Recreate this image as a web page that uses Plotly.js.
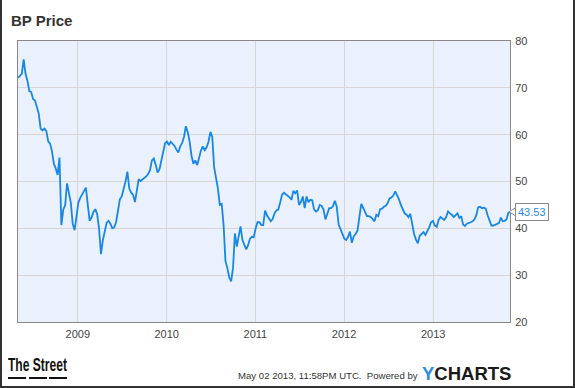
<!DOCTYPE html>
<html>
<head>
<meta charset="utf-8">
<script src="https://cdn.plot.ly/plotly-3.0.1.min.js"></script>
<style>
html,body{margin:0;padding:0;background:#fff;}
#wrap{position:relative;width:575px;height:388px;overflow:hidden;background:#fff;}
#chart{position:absolute;left:0;top:0;width:575px;height:388px;}
#frame{position:absolute;left:0;top:0;width:575px;height:388px;box-sizing:border-box;border-left:2px solid #333;border-right:2px solid #333;border-bottom:2px solid #333;pointer-events:none;}
#ts{position:absolute;left:8px;top:356px;font-family:'Liberation Sans Narrow','Liberation Sans',Arial,sans-serif;font-weight:bold;font-size:18.5px;line-height:1;color:#111;white-space:nowrap;transform-origin:0 0;}
.dash{position:absolute;top:377px;height:2px;background:#111;}
</style>
</head>
<body>
<div id="wrap">
  <div id="chart"></div>
  <div id="ts">The Street</div>
  <div class="dash" style="left:8px;width:18px;"></div>
  <div class="dash" style="left:29px;width:18px;"></div>
  <div class="dash" style="left:49px;width:18px;"></div>
  <div id="frame"></div>
</div>
<script>
// Weekly closing dates (MM-DD) per year
const days2008 = ['05-02','05-09','05-16','05-23','05-30','06-06','06-13','06-20','06-27','07-04','07-11','07-18','07-25','08-01','08-08','08-15','08-22','08-29','09-05','09-12','09-19','09-26','10-03','10-10','10-17','10-24','10-31','11-07','11-14','11-21','11-28','12-05','12-12','12-19','12-26'];
const days2009 = ['01-02','01-09','01-16','01-23','01-30','02-06','02-13','02-20','02-27','03-06','03-13','03-20','03-27','04-03','04-10','04-17','04-24','05-01','05-08','05-15','05-22','05-29','06-05','06-12','06-19','06-26','07-03','07-10','07-17','07-24','07-31','08-07','08-14','08-21','08-28','09-04','09-11','09-18','09-25','10-02','10-09','10-16','10-23','10-30','11-06','11-13','11-20','11-27','12-04','12-11','12-18','12-25'];
const days2010 = ['01-01','01-08','01-15','01-22','01-29','02-05','02-12','02-19','02-26','03-05','03-12','03-19','03-26','04-02','04-09','04-16','04-23','04-30','05-07','05-14','05-21','05-28','06-04','06-11','06-18','06-25','07-02','07-09','07-16','07-23','07-30','08-06','08-13','08-20','08-27','09-03','09-10','09-17','09-24','10-01','10-08','10-15','10-22','10-29','11-05','11-12','11-19','11-26','12-03','12-10','12-17','12-24','12-31'];
const days2011 = ['01-07','01-14','01-21','01-28','02-04','02-11','02-18','02-25','03-04','03-11','03-18','03-25','04-01','04-08','04-15','04-22','04-29','05-06','05-13','05-20','05-27','06-03','06-10','06-17','06-24','07-01','07-08','07-15','07-22','07-29','08-05','08-12','08-19','08-26','09-02','09-09','09-16','09-23','09-30','10-07','10-14','10-21','10-28','11-04','11-11','11-18','11-25','12-02','12-09','12-16','12-23','12-30'];
const days2012 = ['01-06','01-13','01-20','01-27','02-03','02-10','02-17','02-24','03-02','03-09','03-16','03-23','03-30','04-06','04-13','04-20','04-27','05-04','05-11','05-18','05-25','06-01','06-08','06-15','06-22','06-29','07-06','07-13','07-20','07-27','08-03','08-10','08-17','08-24','08-31','09-07','09-14','09-21','09-28','10-05','10-12','10-19','10-26','11-02','11-09','11-16','11-23','11-30','12-07','12-14','12-21','12-28'];
const days2013 = ['01-04','01-11','01-18','01-25','02-01','02-08','02-15','02-22','03-01','03-08','03-15','03-22','03-29','04-05','04-12','04-19','04-26','05-02'];

// BP price (USD) per year
const price2008 = [72.1,72.5,73,76.1,73,71.5,69.3,69.1,67.6,67.3,66,64.5,61.3,60.9,61.3,60.8,58.6,58.1,56.5,53.8,52.8,51.4,55.1,40.7,44,44.9,49.6,47.5,45.5,41,39.6,42.5,45.5,46.5,47.2];
const price2009 = [48,48.7,45,41.6,42.3,43.5,44.1,43,39.8,34.5,37.5,39.8,41.2,41.6,41,40,40.2,41.3,44,46.2,46.8,48.2,50,52.1,48.5,47.6,47.2,45.6,48,50.5,50.1,50.4,50.7,51.1,51.6,52.4,54.5,54.9,53.6,51.9,52.6,54.5,56.6,58.2,58.5,57.8,58.5,58.1,57.6,56.8,56.2,57.5];
const price2010 = [58.2,59.5,61.8,60.5,58.5,55.5,53.8,54.5,53.5,55,56.6,57.5,56.7,57.3,58.5,60.6,59.5,53,51,48.5,45,45.2,40.7,33,31.5,29.5,28.7,31.5,38.9,36.1,38.3,40.4,37.5,36.3,35.5,36.4,37.8,38.2,38.1,40,41.3,41.3,40.7,40.7,43.8,42.8,42.1,41.5,42,43.2,43.8,44,45.5];
const price2011 = [47.2,47.6,47.3,46.9,46.6,46.1,48,47.5,48.1,45,45.6,46.8,44.3,46.8,45.6,46.1,46,44,43.6,43.9,45,44.8,44,41.9,43,44.3,44.3,44.7,45.9,44.6,40.8,39.6,38.8,37.8,37.5,38.2,39.3,36.9,38.3,38.8,39.5,42.4,45.2,44.4,43.4,42.6,42.6,42.4,42,41.5,42.9,42.6];
const price2012 = [44.1,44.2,44.6,44.8,45.4,46.4,46.6,47,47.9,47.1,46.2,45,43.9,43.2,42.9,42.4,43.1,40.8,38.8,37.6,36.8,38.4,38.9,39.2,38.6,39.3,40.2,41.3,41.6,40.6,40.3,41.8,42.4,42.1,41.8,42.4,43.6,43.2,42.9,42.4,42.8,43.2,42.2,42.6,40.8,40.5,41,41.1,41.3,41.5,41.9,42.8];
const price2013 = [44.5,44.6,44.3,44.4,44.2,42.8,41.6,40.6,40.6,40.8,40.9,41.1,42.3,41.5,41.6,41.9,43.3,43.53];

// x-axis tick positions and labels as drawn in the reference
const tickDates = ['2008-12-10','2009-11-05','2010-09-30','2011-08-25','2012-07-21'];
const tickLabels = ['2009','2010','2011','2012','2013'];

const lastPrice = 43.53;
const lastLabel = '43.53';
const titleText = 'BP Price';
const stampText = 'May 02 2013, 11:58PM UTC.  Powered by';

const years = [[2008,days2008],[2009,days2009],[2010,days2010],[2011,days2011],[2012,days2012],[2013,days2013]];
const dates = [];
years.forEach(([y, ds]) => ds.forEach(d => dates.push(y + '-' + d)));
const prices = [].concat(price2008, price2009, price2010, price2011, price2012, price2013);

const FONT = "'Liberation Sans', Arial, sans-serif";
const BLUE = '#1787e5';

// plot area geometry in pixels
const L = 18, R = 65, T = 41, B = 66, W = 575 - L - R, H = 388 - T - B;
const px = x => (x - L) / W;
const py = y => (388 - B - y) / H;

const trace = {
  type: 'scatter', mode: 'lines', x: dates, y: prices,
  line: {color: BLUE, width: 1.8}, hoverinfo: 'x+y'
};

const layout = {
  width: 575, height: 388,
  margin: {l: L, r: R, t: T, b: B, pad: 0},
  paper_bgcolor: 'rgba(0,0,0,0)', plot_bgcolor: '#eaf1fc',
  showlegend: false,
  font: {family: FONT, size: 11, color: '#444'},
  title: {
    text: titleText,
    font: {family: FONT, size: 15, color: '#333', weight: 'bold'},
    x: 11 / 575, xanchor: 'left', xref: 'container',
    y: 1 - 20.75 / 388, yanchor: 'middle', yref: 'container'
  },
  xaxis: {
    type: 'date', range: ['2008-05-02', '2013-05-02'],
    tickmode: 'array', tickvals: tickDates, ticktext: tickLabels,
    showgrid: true, gridcolor: '#d6d6d6', gridwidth: 1,
    showline: true, linecolor: '#888', linewidth: 1, mirror: true,
    ticks: '', zeroline: false, fixedrange: true, ticklabelstandoff: 2,
    tickfont: {family: FONT, size: 11, color: '#444'}
  },
  yaxis: {
    side: 'right', range: [20, 80], tick0: 20, dtick: 10,
    showgrid: true, gridcolor: '#d6d6d6', gridwidth: 1,
    showline: true, linecolor: '#888', linewidth: 1, mirror: true,
    ticks: '', zeroline: false, fixedrange: true, ticklabelstandoff: 2,
    tickfont: {family: FONT, size: 11, color: '#444'}
  },
  shapes: [{
    type: 'path', xref: 'paper', yref: 'y',
    path: 'M ' + px(515) + ',' + (lastPrice + 0.8) + ' L ' + px(509) + ',' + lastPrice + ' L ' + px(515) + ',' + (lastPrice - 0.8),
    line: {color: '#888', width: 1}, fillcolor: '#fff', layer: 'above'
  }],
  annotations: [
    {
      xref: 'paper', yref: 'y', x: px(515), y: lastPrice,
      xanchor: 'left', yanchor: 'middle', showarrow: false,
      text: lastLabel, font: {family: FONT, size: 11, color: '#2a8ae0'},
      bgcolor: '#fff', bordercolor: '#888', borderwidth: 1, borderpad: 2
    },
    {
      xref: 'paper', yref: 'paper', x: px(236), y: py(375),
      xanchor: 'left', yanchor: 'middle', showarrow: false,
      text: stampText, font: {family: FONT, size: 9.6, color: '#333'}
    },
    {
      xref: 'paper', yref: 'paper', x: px(420), y: py(373.7),
      xanchor: 'left', yanchor: 'middle', showarrow: false,
      text: '<span style="color:#2d8fe3">Y</span>CHARTS',
      font: {family: FONT, size: 18.5, color: '#1a1a1a', weight: 'bold'}
    }
  ]
};

Plotly.newPlot('chart', [trace], layout, {displayModeBar: false, staticPlot: true});

function fitLogo() {
  const ts = document.getElementById('ts');
  ts.style.transform = 'none';
  const w = ts.getBoundingClientRect().width;
  if (w > 0) ts.style.transform = 'scaleX(' + (59 / w) + ')';
}
fitLogo();
if (document.fonts && document.fonts.ready) document.fonts.ready.then(fitLogo);
</script>
</body>
</html>
